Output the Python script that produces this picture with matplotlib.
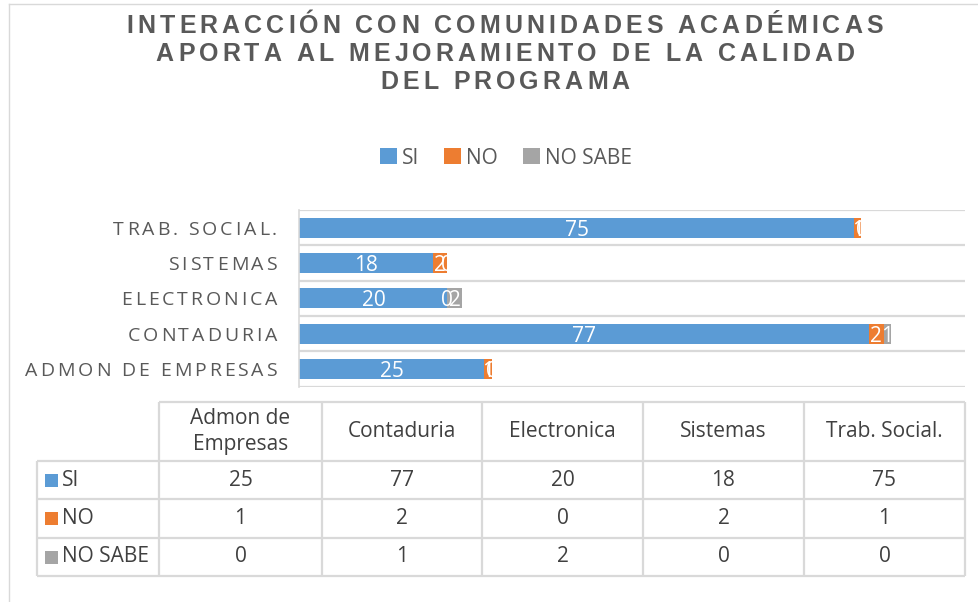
import matplotlib
matplotlib.use("Agg")
import matplotlib.pyplot as plt
import numpy as np
from matplotlib.font_manager import FontProperties, findfont
from matplotlib.ft2font import FT2Font
from matplotlib.patches import Rectangle

# data
programs = ["Admon de\nEmpresas", "Contaduria", "Electronica", "Sistemas", "Trab. Social."]
axis_labels = ["ADMON DE EMPRESAS", "CONTADURIA", "ELECTRONICA", "SISTEMAS", "TRAB. SOCIAL."]
series = ["SI", "NO", "NO SABE"]
si = [25, 77, 20, 18, 75]
no = [1, 2, 0, 2, 1]
no_sabe = [0, 1, 2, 0, 0]
colors = ["#5B9BD5", "#ED7D31", "#A5A5A5"]
title_lines = [
    "INTERACCIÓN CON COMUNIDADES ACADÉMICAS",
    "APORTA AL MEJORAMIENTO DE LA CALIDAD",
    "DEL PROGRAMA",
]

W, H, DPI = 979, 602, 100
BODY = "Open Sans"
TITLE_FONT = "Liberation Sans"
GRID = "#D9D9D9"
TXT = "#595959"
TABLE_TXT = "#404040"

fig = plt.figure(figsize=(W / DPI, H / DPI), dpi=DPI)

# overlay axes in pixel units (y down) for title, labels and the data table
ov = fig.add_axes([0, 0, 1, 1])
ov.set_xlim(0, W)
ov.set_ylim(H, 0)
ov.axis("off")
ov.patch.set_visible(False)


def px_rect(x0, y0, x1, y1):
    return [x0 / W, 1 - y1 / H, (x1 - x0) / W, (y1 - y0) / H]


def tracked(x, y, s, size, track, ha="center", family=BODY, weight="normal", color=TXT):
    # letter-spaced text, one glyph at a time on the baseline y
    fp = FontProperties(family=family, weight=weight, size=size)
    font = FT2Font(findfont(fp))
    font.set_size(size, DPI)
    adv = [font.load_char(ord(c)).linearHoriAdvance / 65536 for c in s]
    total = sum(adv) + track * (len(s) - 1)
    if ha == "center":
        x0 = x - total / 2
    elif ha == "right":
        x0 = x - total
    else:
        x0 = x
    for c, a in zip(s, adv):
        if c != " ":
            ov.text(x0 + a / 2, y, c, ha="center", va="baseline",
                    fontproperties=fp, color=color)
        x0 += a + track


# chart frame (only left/top visible in the crop)
ov.plot([9.5, 9.5], [4, H], color=GRID, lw=1)
ov.plot([9.5, W], [4, 4], color=GRID, lw=1)

# title
for line, base in zip(title_lines, [33, 61, 89]):
    tracked(505, base, line, 18, 4.0, family=TITLE_FONT, weight="bold", color=TXT)

# stacked bars
ax = fig.add_axes(px_rect(299.5, 210, 965, 386.7))
y = np.arange(len(programs))
left = np.zeros(len(y))
handles = []
for name, vals, col in zip(series, [si, no, no_sabe], colors):
    h = ax.barh(y, vals, left=left, height=0.566, color=col, label=name, zorder=2)
    handles.append(h)
    for yi, l, v in zip(y, left, vals):
        ax.text(l + v / 2, yi, str(v), ha="center", va="center_baseline",
                color="white", fontsize=15, family=BODY, zorder=3)
    left = left + np.array(vals)

ax.set_xlim(0, 90)
ax.set_ylim(-0.5, len(programs) - 0.5)
ax.set_xticks([])
ax.set_yticks(np.arange(-0.5, len(programs), 1))
ax.tick_params(length=0, labelleft=False)
ax.grid(axis="y", color=GRID, lw=1.6, zorder=0)
for s in ["top", "right", "bottom"]:
    ax.spines[s].set_visible(False)
ax.spines["left"].set_color(GRID)
ax.spines["left"].set_linewidth(1.2)

# category labels, letter-spaced, right aligned next to the axis
fig.canvas.draw()
for yi, lab in zip(y, axis_labels):
    yp = H - ax.transData.transform((0, yi))[1]
    tracked(277, yp + 7, lab, 14, 2.9, ha="right")

# legend
fig.legend(handles, series, loc="center", bbox_to_anchor=(506 / W, 1 - 158 / H),
           ncol=3, frameon=False, handlelength=0.8, handleheight=0.8,
           handletextpad=0.25, columnspacing=1.2, labelcolor=TXT,
           prop=FontProperties(family=BODY, size=15))

# data table
col_edges = [159, 322, 482, 643, 804, 965]
row_edges = [402, 461, 499, 538, 576]
lab_left = 37
tkw = dict(color=GRID, lw=1.6, solid_capstyle="butt")
ov.plot([col_edges[0], col_edges[-1]], [row_edges[0]] * 2, **tkw)
for r in row_edges[1:]:
    ov.plot([lab_left, col_edges[-1]], [r, r], **tkw)
for c in col_edges:
    ov.plot([c, c], [row_edges[0], row_edges[-1]], **tkw)
ov.plot([lab_left, lab_left], [row_edges[1], row_edges[-1]], **tkw)

centers = [(a + b) / 2 for a, b in zip(col_edges[:-1], col_edges[1:])]
hy = (row_edges[0] + row_edges[1]) / 2
for cx, p in zip(centers, programs):
    ov.text(cx, hy, p, ha="center", va="center", fontsize=15, family=BODY,
            color=TABLE_TXT, linespacing=1.3)

for k, (name, vals, col) in enumerate(zip(series, [si, no, no_sabe], colors)):
    ry = (row_edges[k + 1] + row_edges[k + 2]) / 2
    ov.add_patch(Rectangle((45, ry - 6.5), 13, 13, color=col, lw=0))
    ov.text(62, ry, name, ha="left", va="center", fontsize=15, family=BODY,
            color=TABLE_TXT)
    for cx, v in zip(centers, vals):
        ov.text(cx, ry, str(v), ha="center", va="center", fontsize=15,
                family=BODY, color=TABLE_TXT)

fig.savefig("out.png", dpi=DPI)
